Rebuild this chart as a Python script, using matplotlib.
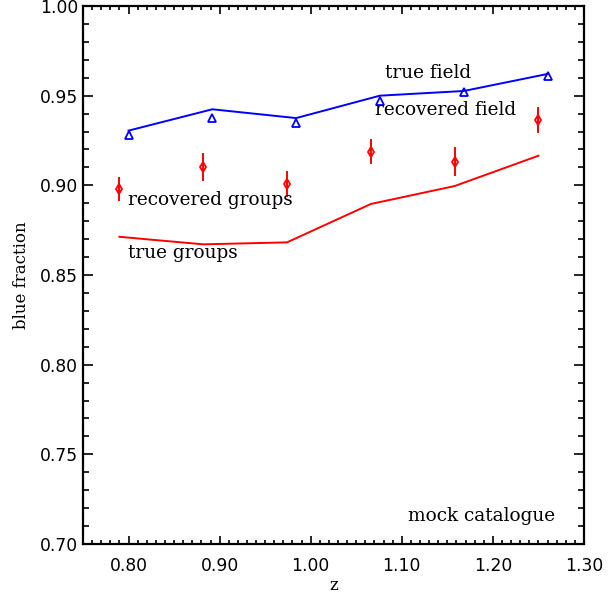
import matplotlib
matplotlib.use("Agg")
import matplotlib.pyplot as plt
from matplotlib.ticker import MultipleLocator, FormatStrFormatter

# blue fraction vs redshift, mock catalogue
z_field = [0.800, 0.892, 0.984, 1.076, 1.168, 1.260]
true_field = [0.9305, 0.9424, 0.9375, 0.9500, 0.9526, 0.9621]
rec_field = [0.9278, 0.9374, 0.9349, 0.9472, 0.9519, 0.9611]

z_groups = [0.790, 0.882, 0.974, 1.066, 1.158, 1.250]
true_groups = [0.8713, 0.8671, 0.8682, 0.8896, 0.8996, 0.9165]
rec_groups = [0.8980, 0.9102, 0.9008, 0.9187, 0.9132, 0.9363]
rec_groups_err = [0.0067, 0.0076, 0.0072, 0.0069, 0.0080, 0.0072]

serif = ["DejaVu Serif"]
fs = 13.3

fig = plt.figure(figsize=(6.11, 5.93), dpi=100)
ax = fig.add_axes([0.1358, 0.0826, 0.8200, 0.9073])

ax.plot(z_field, true_field, color="blue", lw=1.4)
ax.plot(z_field, rec_field, ls="none", marker="^", ms=5.5, mfc="none",
        mec="blue", mew=1.3)
ax.plot(z_groups, true_groups, color="red", lw=1.4)
ax.errorbar(z_groups, rec_groups, yerr=rec_groups_err, fmt="d", ms=5.5,
            mfc="none", mec="red", mew=1.3, ecolor="red", elinewidth=1.4,
            capsize=0)

ax.text(1.082, 0.9626, "true field", family=serif, fontsize=fs, va="center")
ax.text(1.071, 0.9420, "recovered field", family=serif, fontsize=fs, va="center")
ax.text(0.799, 0.8920, "recovered groups", family=serif, fontsize=fs, va="center")
ax.text(0.799, 0.8620, "true groups", family=serif, fontsize=fs, va="center")
ax.text(1.107, 0.7156, "mock catalogue", family=serif, fontsize=fs, va="center")

ax.set_xlim(0.75, 1.30)
ax.set_ylim(0.70, 1.00)
ax.xaxis.set_major_locator(MultipleLocator(0.1))
ax.xaxis.set_minor_locator(MultipleLocator(0.01))
ax.yaxis.set_major_locator(MultipleLocator(0.05))
ax.yaxis.set_minor_locator(MultipleLocator(0.01))
ax.xaxis.set_major_formatter(FormatStrFormatter("%.2f"))
ax.yaxis.set_major_formatter(FormatStrFormatter("%.2f"))

ax.tick_params(axis="both", which="both", direction="in", top=True, right=True,
               labelsize=12.3, width=1.2)
ax.tick_params(axis="x", which="major", length=6, pad=9.5)
ax.tick_params(axis="x", which="minor", length=3)
ax.tick_params(axis="y", which="major", length=7.5, pad=3.5)
ax.tick_params(axis="y", which="minor", length=4)
for s in ax.spines.values():
    s.set_linewidth(1.6)

ax.set_xlabel("z", family=serif, fontsize=12, labelpad=1)
ax.set_ylabel("blue fraction", family=serif, fontsize=12, labelpad=7)

fig.savefig("out.png", dpi=100)
